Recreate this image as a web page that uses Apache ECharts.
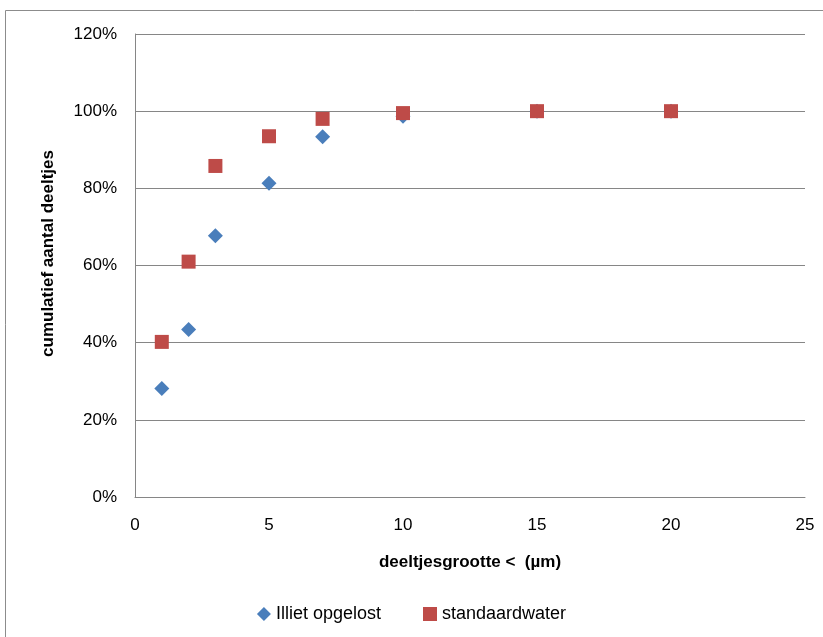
<!DOCTYPE html>
<html>
<head>
<meta charset="utf-8">
<script src="https://cdn.jsdelivr.net/npm/echarts@6/dist/echarts.min.js"></script>
<style>
  html, body { margin: 0; padding: 0; background: #fff; }
  #chart { width: 823px; height: 637px; }
</style>
</head>
<body>
<div id="chart"></div>
<script>
// Particle size classes (µm) and cumulative share of particles (%)
const sizes = [1, 2, 3, 5, 7, 10, 15, 20];
const illietOpgelost = [28.1, 43.4, 67.7, 81.3, 93.4, 98.7, 100, 100];
const standaardwater = [40.2, 61.0, 85.8, 93.5, 98.0, 99.5, 100, 100];
const seriesNames = ['Illiet opgelost', 'standaardwater'];
const xTitle = 'deeltjesgrootte <  (µm)';
const yTitle = 'cumulatief aantal deeltjes';

const font = '"Liberation Sans", "Open Sans", sans-serif';
const pair = (xs, ys) => xs.map((x, i) => [x, ys[i]]);

const chart = echarts.init(document.getElementById('chart'));
chart.setOption({
  animation: false,
  backgroundColor: '#fff',
  graphic: [{
    type: 'rect',
    shape: { x: 5.5, y: 10.5, width: 840, height: 650 },
    style: { fill: 'none', stroke: '#8c8c8c', lineWidth: 1 },
    silent: true
  }],
  grid: { left: 135, right: 18, top: 34, bottom: 140 },
  legend: {
    top: 600,
    left: 'center',
    itemGap: 42,
    itemWidth: 14,
    itemHeight: 14,
    textStyle: { fontFamily: font, fontSize: 18, color: '#000' },
    data: [
      { name: seriesNames[0], icon: 'diamond' },
      { name: seriesNames[1], icon: 'rect' }
    ]
  },
  xAxis: {
    type: 'value',
    min: 0, max: 25, interval: 5,
    name: xTitle,
    nameLocation: 'middle',
    nameGap: 57,
    nameTextStyle: { fontFamily: font, fontSize: 17, fontWeight: 'bold', color: '#000' },
    axisLine: { show: true, lineStyle: { color: '#868686' } },
    axisTick: { show: false },
    axisLabel: { fontFamily: font, fontSize: 17, color: '#000', margin: 20 },
    splitLine: { show: false }
  },
  yAxis: {
    type: 'value',
    min: 0, max: 120, interval: 20,
    name: yTitle,
    nameLocation: 'middle',
    nameGap: 78,
    nameTextStyle: { fontFamily: font, fontSize: 17, fontWeight: 'bold', color: '#000', padding: [0, 0, 0, 24] },
    axisLine: { show: true, lineStyle: { color: '#868686' } },
    axisTick: { show: false },
    axisLabel: { fontFamily: font, fontSize: 17, color: '#000', margin: 18, formatter: v => v + '%' },
    splitLine: { show: true, lineStyle: { color: '#868686', width: 1 } }
  },
  series: [
    {
      name: seriesNames[0],
      type: 'scatter',
      symbol: 'diamond',
      symbolSize: 15,
      itemStyle: { color: '#4a7ebb', opacity: 1 },
      data: pair(sizes, illietOpgelost)
    },
    {
      name: seriesNames[1],
      type: 'scatter',
      symbol: 'rect',
      symbolSize: 14,
      itemStyle: { color: '#be4b48', opacity: 1 },
      data: pair(sizes, standaardwater)
    }
  ]
});
</script>
</body>
</html>
